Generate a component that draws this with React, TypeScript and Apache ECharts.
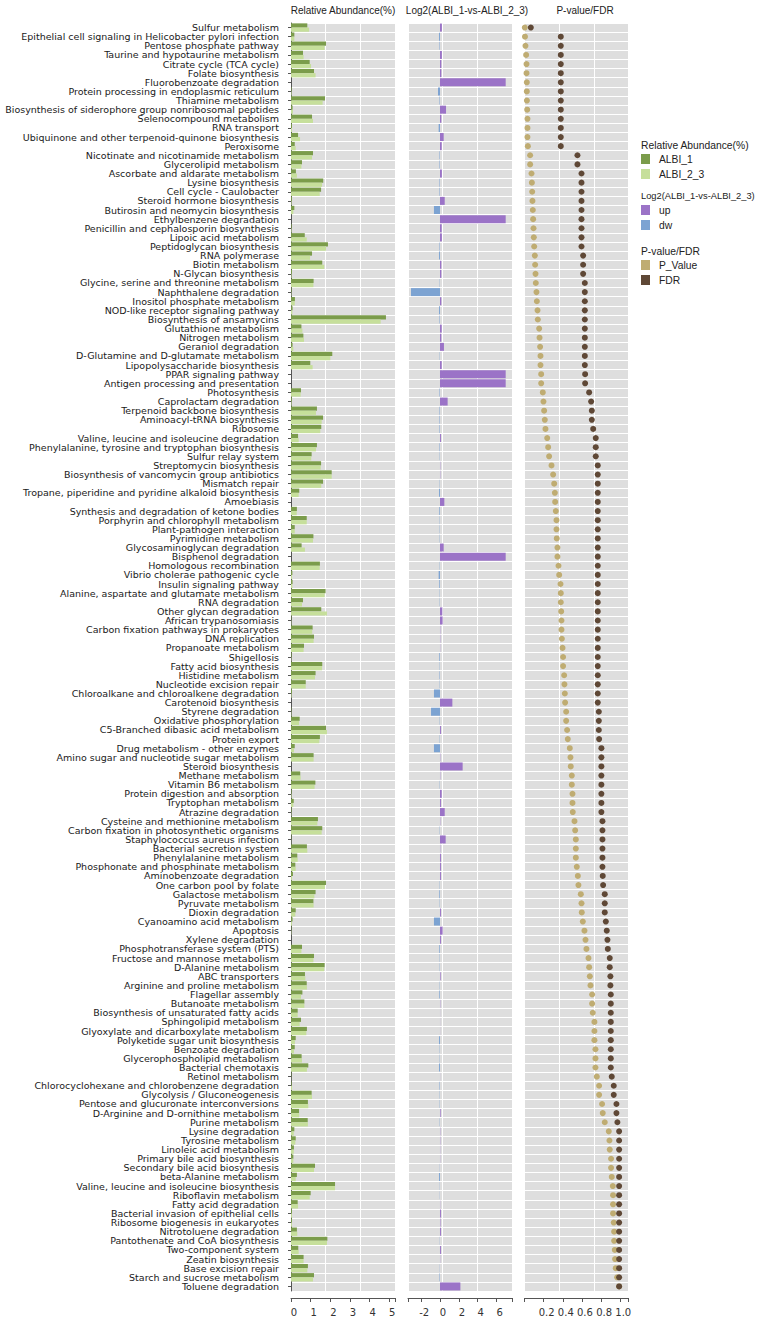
import React, { useEffect, useRef } from "react";
import * as echarts from "echarts";

const categories = [
  "Sulfur metabolism",
  "Epithelial cell signaling in Helicobacter pylori infection",
  "Pentose phosphate pathway",
  "Taurine and hypotaurine metabolism",
  "Citrate cycle (TCA cycle)",
  "Folate biosynthesis",
  "Fluorobenzoate degradation",
  "Protein processing in endoplasmic reticulum",
  "Thiamine metabolism",
  "Biosynthesis of siderophore group nonribosomal peptides",
  "Selenocompound metabolism",
  "RNA transport",
  "Ubiquinone and other terpenoid-quinone biosynthesis",
  "Peroxisome",
  "Nicotinate and nicotinamide metabolism",
  "Glycerolipid metabolism",
  "Ascorbate and aldarate metabolism",
  "Lysine biosynthesis",
  "Cell cycle - Caulobacter",
  "Steroid hormone biosynthesis",
  "Butirosin and neomycin biosynthesis",
  "Ethylbenzene degradation",
  "Penicillin and cephalosporin biosynthesis",
  "Lipoic acid metabolism",
  "Peptidoglycan biosynthesis",
  "RNA polymerase",
  "Biotin metabolism",
  "N-Glycan biosynthesis",
  "Glycine, serine and threonine metabolism",
  "Naphthalene degradation",
  "Inositol phosphate metabolism",
  "NOD-like receptor signaling pathway",
  "Biosynthesis of ansamycins",
  "Glutathione metabolism",
  "Nitrogen metabolism",
  "Geraniol degradation",
  "D-Glutamine and D-glutamate metabolism",
  "Lipopolysaccharide biosynthesis",
  "PPAR signaling pathway",
  "Antigen processing and presentation",
  "Photosynthesis",
  "Caprolactam degradation",
  "Terpenoid backbone biosynthesis",
  "Aminoacyl-tRNA biosynthesis",
  "Ribosome",
  "Valine, leucine and isoleucine degradation",
  "Phenylalanine, tyrosine and tryptophan biosynthesis",
  "Sulfur relay system",
  "Streptomycin biosynthesis",
  "Biosynthesis of vancomycin group antibiotics",
  "Mismatch repair",
  "Tropane, piperidine and pyridine alkaloid biosynthesis",
  "Amoebiasis",
  "Synthesis and degradation of ketone bodies",
  "Porphyrin and chlorophyll metabolism",
  "Plant-pathogen interaction",
  "Pyrimidine metabolism",
  "Glycosaminoglycan degradation",
  "Bisphenol degradation",
  "Homologous recombination",
  "Vibrio cholerae pathogenic cycle",
  "Insulin signaling pathway",
  "Alanine, aspartate and glutamate metabolism",
  "RNA degradation",
  "Other glycan degradation",
  "African trypanosomiasis",
  "Carbon fixation pathways in prokaryotes",
  "DNA replication",
  "Propanoate metabolism",
  "Shigellosis",
  "Fatty acid biosynthesis",
  "Histidine metabolism",
  "Nucleotide excision repair",
  "Chloroalkane and chloroalkene degradation",
  "Carotenoid biosynthesis",
  "Styrene degradation",
  "Oxidative phosphorylation",
  "C5-Branched dibasic acid metabolism",
  "Protein export",
  "Drug metabolism - other enzymes",
  "Amino sugar and nucleotide sugar metabolism",
  "Steroid biosynthesis",
  "Methane metabolism",
  "Vitamin B6 metabolism",
  "Protein digestion and absorption",
  "Tryptophan metabolism",
  "Atrazine degradation",
  "Cysteine and methionine metabolism",
  "Carbon fixation in photosynthetic organisms",
  "Staphylococcus aureus infection",
  "Bacterial secretion system",
  "Phenylalanine metabolism",
  "Phosphonate and phosphinate metabolism",
  "Aminobenzoate degradation",
  "One carbon pool by folate",
  "Galactose metabolism",
  "Pyruvate metabolism",
  "Dioxin degradation",
  "Cyanoamino acid metabolism",
  "Apoptosis",
  "Xylene degradation",
  "Phosphotransferase system (PTS)",
  "Fructose and mannose metabolism",
  "D-Alanine metabolism",
  "ABC transporters",
  "Arginine and proline metabolism",
  "Flagellar assembly",
  "Butanoate metabolism",
  "Biosynthesis of unsaturated fatty acids",
  "Sphingolipid metabolism",
  "Glyoxylate and dicarboxylate metabolism",
  "Polyketide sugar unit biosynthesis",
  "Benzoate degradation",
  "Glycerophospholipid metabolism",
  "Bacterial chemotaxis",
  "Retinol metabolism",
  "Chlorocyclohexane and chlorobenzene degradation",
  "Glycolysis / Gluconeogenesis",
  "Pentose and glucuronate interconversions",
  "D-Arginine and D-ornithine metabolism",
  "Purine metabolism",
  "Lysine degradation",
  "Tyrosine metabolism",
  "Linoleic acid metabolism",
  "Primary bile acid biosynthesis",
  "Secondary bile acid biosynthesis",
  "beta-Alanine metabolism",
  "Valine, leucine and isoleucine biosynthesis",
  "Riboflavin metabolism",
  "Fatty acid degradation",
  "Bacterial invasion of epithelial cells",
  "Ribosome biogenesis in eukaryotes",
  "Nitrotoluene degradation",
  "Pantothenate and CoA biosynthesis",
  "Two-component system",
  "Zeatin biosynthesis",
  "Base excision repair",
  "Starch and sucrose metabolism",
  "Toluene degradation",
];

const albi1 = [
  0.83, 0.17, 1.78, 0.61, 0.95, 1.17, 0, 0.03, 1.73, 0.08, 1.07, 0.05, 0.36, 0.19, 1.12, 0.56, 0.25, 1.64, 1.53, 0.05,
  0.17, 0, 0.03, 0.7, 1.88, 1.07, 1.59, 0.05, 1.15, 0.03, 0.2, 0.08, 4.83, 0.53, 0.63, 0.08, 2.1, 0.98, 0, 0,
  0.51, 0.05, 1.32, 1.63, 1.54, 0.36, 1.32, 1.05, 1.53, 2.07, 1.63, 0.42, 0, 0.3, 0.8, 0.19, 1.14, 0.54, 0, 1.47,
  0.07, 0.08, 1.76, 0.61, 1.54, 0.02, 1.1, 1.17, 0.66, 0.03, 1.59, 1.25, 0.75, 0.05, 0, 0.02, 0.44, 1.78, 1.47, 0.19,
  1.15, 0, 0.47, 1.24, 0.03, 0.14, 0.03, 1.37, 1.59, 0.02, 0.81, 0.32, 0.22, 0.1, 1.78, 1.25, 1.14, 0.24, 0.08, 0.02,
  0, 0.56, 1.17, 1.71, 0.71, 0.8, 0.58, 0.68, 0.34, 0.51, 0.81, 0.24, 0.19, 0.54, 0.88, 0.02, 0.03, 1.05, 0.86, 0.41,
  0.85, 0.17, 0.24, 0.15, 0.12, 1.22, 0.3, 2.24, 1.0, 0.34, 0.05, 0.05, 0.3, 1.85, 0.37, 0.64, 0.86, 1.17, 0,
];

const albi23 = [
  0.92, 0.17, 1.71, 0.64, 1.02, 1.25, 0, 0.03, 1.61, 0.1, 1.12, 0.05, 0.46, 0.24, 1.07, 0.53, 0.3, 1.58, 1.46, 0.03,
  0.12, 0, 0.03, 0.8, 1.78, 0.97, 1.69, 0.03, 1.14, 0.02, 0.19, 0.07, 4.56, 0.58, 0.66, 0.12, 2.0, 1.1, 0, 0,
  0.49, 0.03, 1.27, 1.56, 1.49, 0.39, 1.27, 1.03, 1.51, 2.07, 1.54, 0.39, 0, 0.29, 0.8, 0.19, 1.12, 0.71, 0, 1.46,
  0.05, 0.07, 1.71, 0.56, 1.83, 0.02, 1.08, 1.15, 0.64, 0.02, 1.58, 1.22, 0.75, 0.03, 0, 0.02, 0.41, 1.83, 1.44, 0.15,
  1.15, 0, 0.49, 1.2, 0.03, 0.12, 0.02, 1.34, 1.56, 0.01, 0.83, 0.34, 0.24, 0.05, 1.73, 1.19, 1.15, 0.22, 0.05, 0.02,
  0, 0.53, 1.14, 1.69, 0.73, 0.81, 0.51, 0.68, 0.34, 0.44, 0.78, 0.2, 0.15, 0.56, 0.81, 0.01, 0.05, 1.07, 0.88, 0.42,
  0.86, 0.14, 0.22, 0.14, 0.12, 1.17, 0.24, 2.24, 0.95, 0.36, 0.05, 0.05, 0.32, 1.83, 0.39, 0.64, 0.83, 1.12, 0,
];

const log2fc = [
  0.2, -0.1, -0.05, 0.2, 0.14, 0.14, 6.96, -0.21, -0.05, 0.64, 0.14, -0.14, 0.39, 0.18, -0.05, -0.05, 0.2, -0.05, -0.05, 0.5,
  -0.64, 6.96, 0.18, 0.2, -0.05, -0.1, 0.14, 0.14, -0.03, -3.07, 0.14, -0.1, -0.05, 0.18, 0.14, 0.42, -0.03, 0.18, 6.96, 6.96,
  -0.05, 0.81, -0.05, -0.05, -0.05, 0.1, -0.05, -0.03, 0.03, 0.03, -0.03, -0.1, 0.46, -0.07, -0.03, -0.03, -0.03, 0.39, 6.96, -0.03,
  -0.14, -0.07, -0.03, -0.03, 0.25, 0.28, 0.03, 0.03, 0.02, -0.07, -0.03, -0.05, -0.03, -0.64, 1.31, -0.95, -0.03, 0.1, -0.03, -0.64,
  0.03, 2.4, 0.03, -0.03, 0.18, 0.1, 0.5, 0.03, -0.03, 0.6, 0.03, 0.1, 0.1, 0.1, -0.03, -0.07, -0.03, 0.1, -0.64, 0.28,
  0.1, -0.07, -0.03, -0.03, 0.07, -0.03, -0.07, 0.03, 0.01, 0.01, 0.01, -0.1, -0.03, -0.03, -0.1, 0.01, -0.05, -0.03, -0.03, 0.07,
  -0.03, 0.03, 0.03, 0.02, 0.02, -0.02, -0.1, -0.02, -0.02, 0.02, 0.1, 0.05, 0.1, -0.02, 0.1, 0.02, -0.02, -0.05, 2.16,
];

const pValue = [
  0.003, 0.005, 0.01, 0.017, 0.021, 0.021, 0.024, 0.024, 0.025, 0.028, 0.031, 0.031, 0.031, 0.035, 0.059, 0.059, 0.073, 0.077, 0.08, 0.083,
  0.087, 0.09, 0.094, 0.097, 0.101, 0.108, 0.111, 0.115, 0.118, 0.125, 0.129, 0.136, 0.139, 0.153, 0.157, 0.163, 0.167, 0.167, 0.174, 0.174,
  0.191, 0.198, 0.205, 0.212, 0.219, 0.237, 0.247, 0.257, 0.282, 0.299, 0.31, 0.317, 0.32, 0.327, 0.334, 0.334, 0.337, 0.344, 0.344, 0.355,
  0.362, 0.376, 0.379, 0.379, 0.383, 0.386, 0.386, 0.39, 0.397, 0.403, 0.403, 0.414, 0.417, 0.421, 0.424, 0.435, 0.435, 0.445, 0.452, 0.473,
  0.48, 0.483, 0.494, 0.494, 0.501, 0.501, 0.504, 0.522, 0.529, 0.536, 0.536, 0.536, 0.546, 0.557, 0.563, 0.588, 0.595, 0.598, 0.609, 0.626,
  0.637, 0.647, 0.668, 0.675, 0.682, 0.689, 0.706, 0.706, 0.713, 0.73, 0.73, 0.73, 0.741, 0.741, 0.741, 0.755, 0.779, 0.779, 0.81, 0.817,
  0.838, 0.88, 0.887, 0.89, 0.904, 0.904, 0.911, 0.922, 0.925, 0.925, 0.925, 0.932, 0.936, 0.936, 0.943, 0.946, 0.953, 0.967, 0.988,
];

const fdr = [
  0.066, 0.379, 0.379, 0.379, 0.379, 0.379, 0.379, 0.379, 0.379, 0.379, 0.379, 0.379, 0.379, 0.379, 0.553, 0.553, 0.595, 0.595, 0.595, 0.595,
  0.595, 0.595, 0.595, 0.595, 0.595, 0.612, 0.612, 0.612, 0.63, 0.63, 0.63, 0.63, 0.63, 0.63, 0.63, 0.63, 0.63, 0.63, 0.633, 0.633,
  0.675, 0.696, 0.703, 0.703, 0.717, 0.744, 0.744, 0.744, 0.765, 0.765, 0.765, 0.765, 0.765, 0.765, 0.765, 0.765, 0.765, 0.765, 0.765, 0.765,
  0.765, 0.765, 0.765, 0.765, 0.765, 0.765, 0.765, 0.765, 0.765, 0.765, 0.765, 0.765, 0.765, 0.765, 0.765, 0.776, 0.776, 0.776, 0.779, 0.803,
  0.803, 0.803, 0.803, 0.803, 0.803, 0.803, 0.803, 0.814, 0.814, 0.814, 0.814, 0.814, 0.814, 0.817, 0.821, 0.838, 0.838, 0.838, 0.849, 0.859,
  0.866, 0.87, 0.89, 0.89, 0.897, 0.897, 0.901, 0.901, 0.901, 0.901, 0.901, 0.901, 0.901, 0.901, 0.901, 0.911, 0.932, 0.932, 0.96, 0.96,
  0.97, 0.988, 0.988, 0.988, 0.988, 0.988, 0.988, 0.988, 0.988, 0.988, 0.988, 0.988, 0.988, 0.988, 0.988, 0.988, 0.988, 0.988, 0.988,
];

const abundanceLabels = [0, 1, 2, 3, 4, 5];
const log2Labels = [-2, 0, 2, 4, 6];
const pLabels = [0.2, 0.4, 0.6, 0.8, 1.0];

const panelTitles = ["Relative Abundance(%)", "Log2(ALBI_1-vs-ALBI_2_3)", "P-value/FDR"];
const legendGroups = [
  { title: "Relative Abundance(%)", items: ["ALBI_1", "ALBI_2_3"] },
  { title: "Log2(ALBI_1-vs-ALBI_2_3)", items: ["up", "dw"] },
  { title: "P-value/FDR", items: ["P_Value", "FDR"] },
];

const C_ALBI1 = "#7b9c4b";
const C_ALBI23 = "#c6df9b";
const C_UP = "#9b73c7";
const C_DW = "#7ca3d2";
const C_P = "#bfac72";
const C_FDR = "#5f4836";
const legendColors = [[C_ALBI1, C_ALBI23], [C_UP, C_DW], [C_P, C_FDR]];

const GRID_TOP = 23;
const GRID_H = 1268;
const PANEL_W = 104;
const PANEL_LEFT = [291, 408, 524.5];
const RANGES = [
  [0, 5.29],
  [-3.39, 7.63],
  [0, 1.086],
];

const FONT = "DejaVu Sans";
const AXIS_COLOR = "#555555";

export default function App() {
  const ref = useRef<HTMLDivElement>(null);

  useEffect(() => {
    if (!ref.current) return;
    const chart = echarts.init(ref.current, undefined, { renderer: "svg" });

    const grids = PANEL_LEFT.map((left) => ({
      left,
      top: GRID_TOP,
      width: PANEL_W,
      height: GRID_H,
      show: true,
      backgroundColor: "#dedede",
      borderWidth: 0,
      containLabel: false,
    }));

    const labelSets = [abundanceLabels, log2Labels, pLabels];
    const xAxes: any[] = [];
    RANGES.forEach((r, i) => {
      xAxes.push({
        type: "value",
        gridIndex: i,
        position: "bottom",
        min: r[0],
        max: r[1],
        offset: 7,
        axisLine: { show: true, onZero: false, lineStyle: { color: AXIS_COLOR, width: 1 } },
        axisTick: {
          show: true,
          length: 4,
          lineStyle: { color: AXIS_COLOR },
          customValues: [r[0], ...labelSets[i], r[1]],
        },
        axisLabel: {
          show: true,
          customValues: labelSets[i],
          fontFamily: FONT,
          fontSize: 10,
          color: "#333333",
          margin: 9,
          padding: [0, 0, 0, 6],
          formatter: (v: number) => (i === 2 ? v.toFixed(1) : String(Math.round(v))),
        },
        splitLine: { show: false },
      });
      xAxes.push({
        type: "value",
        gridIndex: i,
        position: "top",
        min: 0,
        max: 3,
        interval: 1,
        axisLine: { show: false },
        axisTick: { show: false },
        axisLabel: { show: false },
        splitLine: { show: true, lineStyle: { color: "#ffffff", width: 1 } },
      });
    });

    const yAxes = [0, 1, 2].map((i) => ({
      type: "category",
      gridIndex: i,
      data: categories,
      inverse: true,
      offset: i === 0 ? 6 : 0,
      axisLine: { show: i === 0, lineStyle: { color: AXIS_COLOR, width: 1 } },
      axisTick: { show: i === 0, length: 3, alignWithLabel: true, interval: 0, lineStyle: { color: AXIS_COLOR } },
      axisLabel: {
        show: i === 0,
        interval: 0,
        fontFamily: FONT,
        fontSize: 9.5,
        color: "#1a1a1a",
        margin: 6,
      },
      splitLine: { show: true, interval: 0, lineStyle: { color: "#ffffff", width: 1 } },
    }));

    const graphics: any[] = [];
    const titleX = [343, 467, 585];
    panelTitles.forEach((t, i) => {
      graphics.push({
        type: "text",
        x: titleX[i],
        y: 10,
        style: {
          text: t,
          fontFamily: "Liberation Sans",
          fontSize: 10,
          fill: "#222222",
          align: "center",
          verticalAlign: "middle",
        },
      });
    });

    const groupTitleY = [145, 196, 251];
    const groupTitleSize = [10.3, 9.3, 10.3];
    legendGroups.forEach((g, gi) => {
      const ty = groupTitleY[gi];
      graphics.push({
        type: "text",
        x: 641,
        y: ty,
        style: {
          text: g.title,
          fontFamily: "Liberation Sans",
          fontSize: groupTitleSize[gi],
          fill: "#222222",
          align: "left",
          verticalAlign: "middle",
        },
      });
      g.items.forEach((it, k) => {
        const cy = ty + 14 + k * 15;
        graphics.push({
          type: "rect",
          shape: { x: 641, y: cy - 5, width: 9, height: 10 },
          style: { fill: legendColors[gi][k] },
        });
        graphics.push({
          type: "text",
          x: 659,
          y: cy,
          style: {
            text: it,
            fontFamily: "Liberation Sans",
            fontSize: 10.3,
            fill: "#222222",
            align: "left",
            verticalAlign: "middle",
          },
        });
      });
    });

    chart.setOption({
      animation: false,
      backgroundColor: "#ffffff",
      grid: grids,
      xAxis: xAxes,
      yAxis: yAxes,
      graphic: graphics,
      series: [
        {
          name: "ALBI_1",
          type: "bar",
          xAxisIndex: 0,
          yAxisIndex: 0,
          data: albi1,
          barWidth: 4.2,
          barGap: "0%",
          itemStyle: { color: C_ALBI1 },
        },
        {
          name: "ALBI_2_3",
          type: "bar",
          xAxisIndex: 0,
          yAxisIndex: 0,
          data: albi23,
          barWidth: 4.2,
          barGap: "0%",
          itemStyle: { color: C_ALBI23 },
        },
        {
          name: "Log2",
          type: "bar",
          xAxisIndex: 2,
          yAxisIndex: 1,
          barWidth: 8,
          data: log2fc.map((v) => ({ value: v, itemStyle: { color: v >= 0 ? C_UP : C_DW } })),
        },
        {
          name: "P_Value",
          type: "scatter",
          xAxisIndex: 4,
          yAxisIndex: 2,
          symbolSize: 6,
          clip: false,
          itemStyle: { color: C_P, opacity: 1 },
          data: pValue.map((v, i) => [v, categories[i]]),
        },
        {
          name: "FDR",
          type: "scatter",
          xAxisIndex: 4,
          yAxisIndex: 2,
          symbolSize: 6,
          clip: false,
          itemStyle: { color: C_FDR, opacity: 1 },
          data: fdr.map((v, i) => [v, categories[i]]),
        },
      ],
    });

    return () => chart.dispose();
  }, []);

  return (
    <div
      ref={ref}
      style={{ position: "absolute", left: 0, top: 0, width: 758, height: 1322 }}
    />
  );
}
